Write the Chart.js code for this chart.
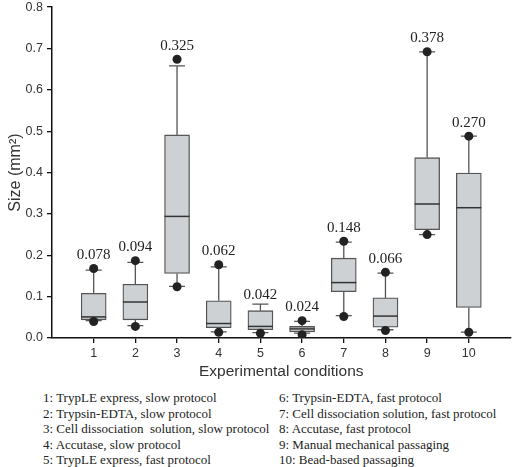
<!DOCTYPE html>
<html>
<head>
<meta charset="utf-8">
<script src="https://cdn.jsdelivr.net/npm/chart.js@4"></script>
<style>
  html, body { margin: 0; padding: 0; background: #fff; }
  body { width: 515px; height: 467px; position: relative; overflow: hidden; }
  #wrap { position: absolute; left: 0; top: 0; width: 515px; height: 385px; }
  .col { position: absolute; top: 390px; font-family: "Liberation Serif", "Times New Roman", serif; font-size: 13px; line-height: 15.5px; color: #222; white-space: nowrap; }
</style>
</head>
<body>
<div id="wrap"><canvas id="c"></canvas></div>
<div class="col" id="legL" style="left:43px"></div>
<div class="col" id="legR" style="left:279px"></div>
<script>
// ---- data ----
const categories   = ['1','2','3','4','5','6','7','8','9','10'];
const q1           = [0.044, 0.044, 0.156, 0.025, 0.020, 0.015, 0.112, 0.026, 0.262, 0.074];
const medians      = [0.051, 0.087, 0.294, 0.035, 0.028, 0.022, 0.134, 0.053, 0.324, 0.315];
const q3           = [0.108, 0.130, 0.491, 0.090, 0.066, 0.028, 0.193, 0.097, 0.436, 0.399];
const whiskerLow   = [0.042, 0.030, 0.125, 0.015, 0.013, 0.012, 0.054, 0.020, 0.250, 0.014];
const whiskerHigh  = [0.164, 0.183, 0.658, 0.172, 0.082, 0.040, 0.232, 0.157, 0.692, 0.488];
const outlierHigh  = [0.168, 0.187, 0.674, 0.177, null,  0.042, 0.234, 0.159, 0.692, 0.488];
const outlierLow   = [0.040, 0.028, 0.124, 0.014, 0.0115,0.008, 0.052, 0.018, 0.250, 0.014];
const meanValues   = [0.078, 0.094, 0.325, 0.062, 0.042, 0.024, 0.148, 0.066, 0.378, 0.270];
const yTicks       = [0, 0.1, 0.2, 0.3, 0.4, 0.5, 0.6, 0.7, 0.8];
const conditionNames = [
  'TrypLE express, slow protocol',
  'Trypsin-EDTA, slow protocol',
  'Cell dissociation  solution, slow protocol',
  'Accutase, slow protocol',
  'TrypLE express, fast protocol',
  'Trypsin-EDTA, fast protocol',
  'Cell dissociation solution, fast protocol',
  'Accutase, fast protocol',
  'Manual mechanical passaging',
  'Bead-based passaging'
];

// legend text
const legL = document.getElementById('legL'), legR = document.getElementById('legR');
conditionNames.forEach((n, i) => {
  const d = document.createElement('div');
  d.textContent = (i + 1) + ': ' + n;
  d.style.whiteSpace = 'pre';
  (i < 5 ? legL : legR).appendChild(d);
});

// pad categories with empty slots at both ends so the axis spans 0..11
const pad = a => [null, ...a, null];
const labels = ['', ...categories, ''];

const SANS = '"Liberation Sans", Arial, sans-serif';
const SERIF = '"Liberation Serif", "Times New Roman", serif';

const boxExtras = {
  id: 'boxExtras',
  beforeDatasetsDraw(chart) {
    const ctx = chart.ctx, y = chart.scales.y;
    const meta = chart.getDatasetMeta(0);
    ctx.save();
    ctx.strokeStyle = '#555';
    ctx.lineWidth = 1.3;
    categories.forEach((c, i) => {
      const el = meta.data[i + 1];
      if (!el) return;
      const x = el.x, capHalf = 8;
      const yq1 = y.getPixelForValue(q1[i]), yq3 = y.getPixelForValue(q3[i]);
      const yl = y.getPixelForValue(whiskerLow[i]), yh = y.getPixelForValue(whiskerHigh[i]);
      ctx.beginPath();
      ctx.moveTo(x, yq3); ctx.lineTo(x, yh);
      ctx.moveTo(x, yq1); ctx.lineTo(x, yl);
      ctx.moveTo(x - capHalf, yh); ctx.lineTo(x + capHalf, yh);
      ctx.moveTo(x - capHalf, yl); ctx.lineTo(x + capHalf, yl);
      ctx.stroke();
    });
    ctx.restore();
  },
  afterDatasetDraw(chart, args) {
    if (args.index !== 0) return;
    const ctx = chart.ctx, y = chart.scales.y;
    const meta = chart.getDatasetMeta(0);
    ctx.save();
    ctx.strokeStyle = '#333';
    ctx.lineWidth = 1.5;
    categories.forEach((c, i) => {
      const el = meta.data[i + 1];
      if (!el) return;
      const ym = y.getPixelForValue(medians[i]);
      ctx.beginPath();
      ctx.moveTo(el.x - el.width / 2, ym);
      ctx.lineTo(el.x + el.width / 2, ym);
      ctx.stroke();
    });
    ctx.restore();
  },
  afterDatasetsDraw(chart) {
    const ctx = chart.ctx, y = chart.scales.y;
    const meta = chart.getDatasetMeta(0);
    ctx.save();
    ctx.fillStyle = '#222';
    ctx.font = '15px ' + SERIF;
    ctx.textAlign = 'center';
    ctx.textBaseline = 'alphabetic';
    categories.forEach((c, i) => {
      const el = meta.data[i + 1];
      if (!el) return;
      const top = outlierHigh[i] != null
        ? y.getPixelForValue(outlierHigh[i]) - 4.5
        : y.getPixelForValue(whiskerHigh[i]);
      ctx.fillText(meanValues[i].toFixed(3), el.x, Math.min(top, y.getPixelForValue(whiskerHigh[i])) - 5);
    });
    ctx.restore();
  }
};

const pointStyle = {
  type: 'line', showLine: false, order: 0,
  pointRadius: 4.5, pointHoverRadius: 4.5,
  pointBackgroundColor: '#222', pointBorderColor: '#222', pointBorderWidth: 0
};

new Chart(document.getElementById('c'), {
  type: 'bar',
  data: {
    labels,
    datasets: [
      {
        label: 'IQR',
        data: pad(q1.map((v, i) => [v, q3[i]])),
        backgroundColor: '#cdd1d4',
        borderColor: '#555',
        borderWidth: 1.3,
        borderSkipped: false,
        barThickness: 25,
        order: 1
      },
      Object.assign({ label: 'upper', data: pad(outlierHigh) }, pointStyle),
      Object.assign({ label: 'lower', data: pad(outlierLow) }, pointStyle)
    ]
  },
  options: {
    responsive: true,
    maintainAspectRatio: false,
    animation: false,
    events: [],
    layout: { padding: { top: 0, right: 1, left: 0, bottom: 0 } },
    plugins: { legend: { display: false }, tooltip: { enabled: false } },
    scales: {
      x: {
        type: 'category',
        offset: false,
        grid: {
          offset: false,
          drawOnChartArea: false,
          drawTicks: true,
          tickLength: 5,
          lineWidth: 1.3,
          color: ctx => (ctx.index === 0 || ctx.index === labels.length - 1) ? 'rgba(0,0,0,0)' : '#111'
        },
        border: { display: true, color: '#111', width: 1.5 },
        ticks: { color: '#333', font: { family: SANS, size: 12.5 }, padding: 3, autoSkip: false, maxRotation: 0 },
        title: { display: true, text: 'Experimental conditions', color: '#333', font: { family: SANS, size: 15.5 }, padding: { top: 2, bottom: 4 } },
        afterFit: s => { s.height = 47; }
      },
      y: {
        min: 0, max: 0.8,
        afterBuildTicks: s => { s.ticks = yTicks.map(v => ({ value: v })); },
        grid: { drawOnChartArea: false, drawTicks: true, tickLength: 5, lineWidth: 1.3, color: '#111' },
        border: { display: true, color: '#111', width: 1.5 },
        ticks: { color: '#333', font: { family: SANS, size: 12.5, lineHeight: 0.5 }, padding: 4, callback: v => Number(v).toFixed(1) },
        title: { display: true, text: 'Size (mm²)', color: '#333', font: { family: SANS, size: 16 }, padding: { top: 6, bottom: 0 } },
        afterFit: s => { s.width = 52; }
      }
    }
  },
  plugins: [boxExtras]
});
</script>
</body>
</html>
